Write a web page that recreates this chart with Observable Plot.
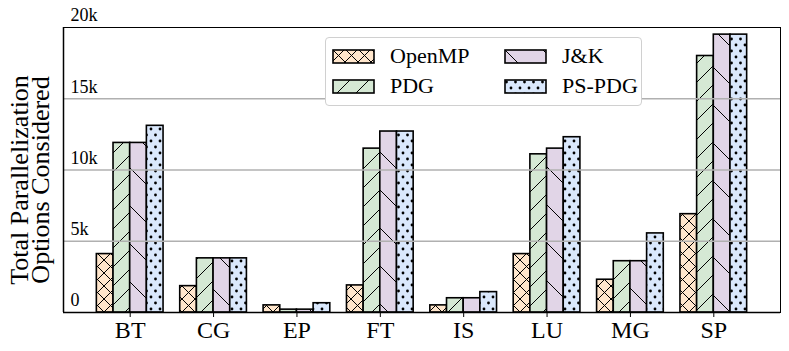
<!DOCTYPE html>
<html>
<head>
<meta charset="utf-8">
<script src="https://cdn.jsdelivr.net/npm/d3@7"></script>
<script src="https://cdn.jsdelivr.net/npm/@observablehq/plot@0.6"></script>
<style>
  body { margin: 0; background: #fff; }
  #wrap { position: relative; width: 789px; height: 351px; font-family: "Liberation Serif", "Times New Roman", serif; }
  #legend { position: absolute; left: 325px; top: 37px; width: 317px; height: 69px; border: 1px solid #d0d0d0; border-radius: 4px; background: #fff; box-sizing: border-box; }
  .item { position: absolute; display: flex; align-items: center; font-size: 22px; color: #000; line-height: 1; }
  .item svg { margin-right: 15px; }
</style>
</head>
<body>
<div id="wrap"></div>
<script>
const categories = ["BT", "CG", "EP", "FT", "IS", "LU", "MG", "SP"];
const seriesNames = ["OpenMP", "PDG", "J&K", "PS-PDG"];
const openmp = [4100, 1850, 500, 1900, 500, 4100, 2300, 6900];
const pdg    = [11900, 3800, 200, 11500, 1000, 11100, 3600, 18000];
const jk     = [11900, 3800, 200, 12700, 1000, 11500, 3600, 19500];
const psPdg  = [13100, 3800, 650, 12700, 1430, 12300, 5550, 19500];
const yTicks = [0, 5000, 10000, 15000, 20000];
const yTickLabels = ["0", "5k", "10k", "15k", "20k"];
const seriesValues = [openmp, pdg, jk, psPdg];
const fills = ["#ffe6cc", "#d5e8d4", "#e1d5e7", "#dae8fc"];

const font = "Liberation Serif, Times New Roman, serif";

const defsSvg = `
<svg width="0" height="0" style="position:absolute">
<defs>
  <pattern id="pat0" patternUnits="userSpaceOnUse" width="13" height="13">
    <rect width="13" height="13" fill="${fills[0]}"/>
    <path d="M0,0L13,13M13,0L0,13" stroke="#000" stroke-width="1"/>
  </pattern>
  <pattern id="pat1" patternUnits="userSpaceOnUse" width="19" height="19">
    <rect width="19" height="19" fill="${fills[1]}"/>
    <path d="M0,19L19,0M-2,2L2,-2M17,21L21,17" stroke="#000" stroke-width="1"/>
  </pattern>
  <pattern id="pat2" patternUnits="userSpaceOnUse" width="38" height="38">
    <rect width="38" height="38" fill="${fills[2]}"/>
    <path d="M0,0L38,38M-2,36L2,40M36,-2L40,2" stroke="#000" stroke-width="1"/>
  </pattern>
  <pattern id="pat3" patternUnits="userSpaceOnUse" width="9" height="12">
    <rect width="9" height="12" fill="${fills[3]}"/>
    <circle cx="2.5" cy="3" r="1.4" fill="#000"/>
    <circle cx="7" cy="9" r="1.4" fill="#000"/>
  </pattern>
</defs>
</svg>`;

const bars = [];
seriesValues.forEach((vals, j) => {
  vals.forEach((v, i) => {
    bars.push({series: j, cat: i, x1: i - 0.4 + 0.2 * j, x2: i - 0.2 + 0.2 * j, value: v});
  });
});

const chart = Plot.plot({
  width: 789,
  height: 351,
  marginLeft: 63,
  marginRight: 9,
  marginTop: 27,
  marginBottom: 39,
  style: {fontFamily: font, background: "#fff"},
  x: {domain: [-0.8, 7.8]},
  y: {domain: [0, 20000]},
  marks: [
    ...[0, 1, 2, 3].map(j => Plot.rectY(bars.filter(d => d.series === j), {
      x1: "x1", x2: "x2", y1: 0, y2: "value",
      fill: `url(#pat${j})`, stroke: "#000", strokeWidth: 1.6
    })),
    Plot.gridY([5000, 10000, 15000], {stroke: "#b0b0b0", strokeOpacity: 1, strokeWidth: 1.5}),
    Plot.frame({stroke: "#000", strokeWidth: 1}),
    Plot.ruleX([-0.8], {stroke: "#000", strokeWidth: 1.5}),
    Plot.ruleY([0], {stroke: "#000", strokeWidth: 1.5}),
    Plot.axisY({
      ticks: yTicks,
      tickFormat: (d) => yTickLabels[yTicks.indexOf(d)],
      tickSize: 0, tickPadding: -7, textAnchor: "start", dy: -12,
      fontSize: 18, fill: "#000", label: null
    }),
    Plot.axisX({
      ticks: d3.range(categories.length),
      tickFormat: i => categories[i],
      tickSize: 5, tickPadding: 3, fontSize: 24, fill: "#000", label: null
    }),
    Plot.text(["Total Parallelization\nOptions Considered"], {
      frameAnchor: "left", text: d => d, rotate: -90, dx: -32, dy: 10,
      fontSize: 26, lineHeight: 0.8, fill: "#000", textAnchor: "middle"
    })
  ]
});

const wrap = document.getElementById("wrap");
wrap.insertAdjacentHTML("beforeend", defsSvg);
wrap.appendChild(chart);

const legend = document.createElement("div");
legend.id = "legend";
const legendPos = [
  {left: 6, top: 7}, {left: 6, top: 37},
  {left: 178, top: 7}, {left: 178, top: 37}
];
seriesNames.forEach((name, j) => {
  const it = document.createElement("div");
  it.className = "item";
  it.style.left = legendPos[j].left + "px";
  it.style.top = legendPos[j].top + "px";
  it.innerHTML = `<svg width="43" height="15"><rect x="1" y="1" width="41" height="13" fill="url(#pat${j})" stroke="#000" stroke-width="1.6"/></svg><span>${name.replace("&", "&amp;")}</span>`;
  legend.appendChild(it);
});
wrap.appendChild(legend);
</script>
</body>
</html>
